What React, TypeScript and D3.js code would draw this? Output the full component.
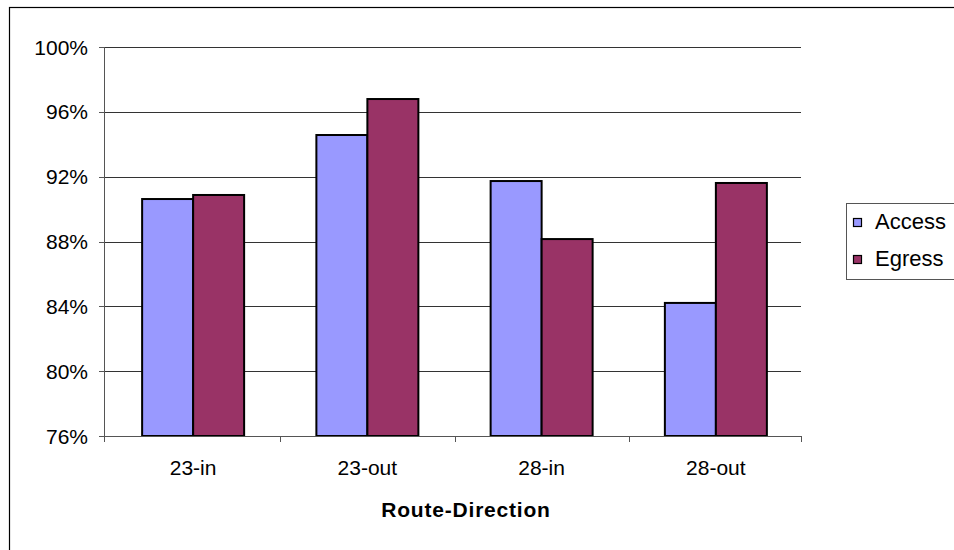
import React from "react";
import * as d3 from "d3";

// Share of trips by route and direction, access vs. egress
const categories = ["23-in", "23-out", "28-in", "28-out"];
const seriesNames = ["Access", "Egress"];
const accessValues = [90.62, 94.57, 91.73, 84.21];
const egressValues = [90.87, 96.79, 88.15, 91.61];
const yTicks = [76, 80, 84, 88, 92, 96, 100];
const xTitle = "Route-Direction";

const colors: Record<string, string> = { Access: "#9999FF", Egress: "#993366" };

const W = 954;
const H = 550;
const plot = { left: 104, right: 801, top: 47, bottom: 436 };
const font = "'Liberation Sans', Arial, sans-serif";

export default function App() {
  const y = d3.scaleLinear().domain([76, 100]).range([plot.bottom, plot.top]);
  const x0 = d3.scaleBand<string>().domain(categories).range([106, 803]);
  const groupW = 102;
  const x1 = d3.scaleBand<string>().domain(seriesNames).range([0, groupW]);
  const values: Record<string, number[]> = { Access: accessValues, Egress: egressValues };

  const bars = categories.flatMap((c, i) =>
    seriesNames.map((s) => {
      const v = values[s][i];
      const bx = (x0(c) as number) + (x0.bandwidth() - groupW) / 2 + (x1(s) as number);
      return { key: `${c}-${s}`, x: bx, y: y(v), w: x1.bandwidth(), h: plot.bottom - y(v), fill: colors[s] };
    })
  );

  const xTickPositions = [...categories.slice(1).map((c) => x0(c) as number), plot.right];

  return (
    <svg
      width={W}
      height={H}
      style={{ position: "absolute", left: 0, top: 0, background: "#fff" }}
      fontFamily={font}
    >
      <rect x={0} y={0} width={W} height={H} fill="#fff" />
      {/* chart frame */}
      <rect x={9.5} y={7.5} width={1200} height={1200} fill="none" stroke="#000" strokeWidth={1.2} />

      {/* gridlines */}
      {yTicks.map((t) => (
        <line
          key={`g${t}`}
          x1={plot.left}
          x2={plot.right}
          y1={Math.round(y(t)) + 0.5}
          y2={Math.round(y(t)) + 0.5}
          stroke="#333"
          strokeWidth={1}
        />
      ))}

      {/* bars */}
      {bars.map((b) => (
        <rect
          key={b.key}
          x={b.x}
          y={b.y}
          width={b.w}
          height={b.h}
          fill={b.fill}
          stroke="#000"
          strokeWidth={2}
        />
      ))}

      {/* y axis */}
      <line x1={plot.left + 0.5} x2={plot.left + 0.5} y1={plot.top} y2={plot.bottom} stroke="#555" />
      {yTicks.map((t) => (
        <g key={`yt${t}`}>
          <line
            x1={plot.left - 5}
            x2={plot.left}
            y1={Math.round(y(t)) + 0.5}
            y2={Math.round(y(t)) + 0.5}
            stroke="#555"
          />
          <text x={88} y={y(t)} dy="0.36em" textAnchor="end" fontSize={21} fill="#000">
            {`${t}%`}
          </text>
        </g>
      ))}

      {/* x axis */}
      <line x1={plot.left} x2={plot.right} y1={plot.bottom + 0.5} y2={plot.bottom + 0.5} stroke="#555" />
      {[plot.left, ...xTickPositions].map((p, i) => (
        <line
          key={`xt${i}`}
          x1={Math.round(p) + 0.5}
          x2={Math.round(p) + 0.5}
          y1={plot.bottom}
          y2={plot.bottom + 6}
          stroke="#555"
        />
      ))}
      {categories.map((c) => (
        <text
          key={`xl${c}`}
          x={(x0(c) as number) + x0.bandwidth() / 2}
          y={475}
          textAnchor="middle"
          fontSize={21}
          fill="#000"
        >
          {c}
        </text>
      ))}
      <text
        x={466}
        y={517}
        textAnchor="middle"
        fontSize={21}
        fontWeight="bold"
        letterSpacing={0.8}
        fill="#000"
      >
        {xTitle}
      </text>

      {/* legend */}
      <rect x={846.5} y={203.5} width={140} height={76} fill="#fff" stroke="#555" strokeWidth={1} />
      {seriesNames.map((s, i) => (
        <g key={`lg${s}`} transform={`translate(0, ${i * 37})`}>
          <rect x={853.5} y={218.5} width={8} height={8} fill={colors[s]} stroke="#000" strokeWidth={1.2} />
          <text x={875} y={229} fontSize={22} fill="#000">
            {s}
          </text>
        </g>
      ))}
    </svg>
  );
}
